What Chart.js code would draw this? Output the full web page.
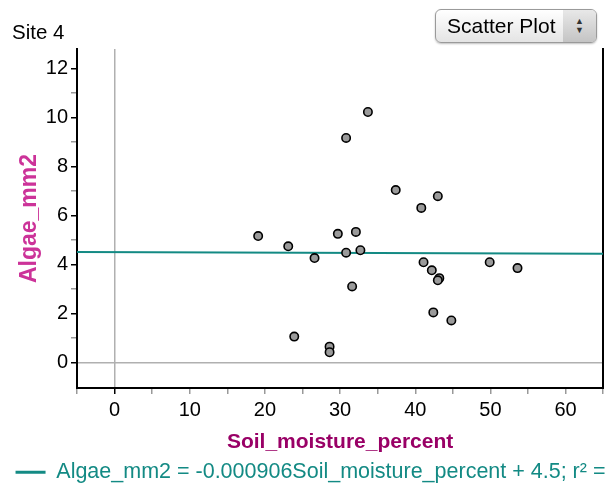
<!DOCTYPE html>
<html>
<head>
<meta charset="utf-8">
<script src="https://cdn.jsdelivr.net/npm/chart.js@4.4.1/dist/chart.umd.min.js"></script>
<style>
  html, body { margin: 0; padding: 0; background: #fff; overflow: hidden; }
  #wrap { position: relative; width: 605px; height: 489px; overflow: hidden; }
  #graphic { display: block; }
  #picker {
    position: absolute; left: 435px; top: 9px; width: 162px; height: 34px;
    box-sizing: border-box; border: 1px solid #9a9a9a; border-radius: 6px;
    background: linear-gradient(#ffffff, #e4e4e4);
    font: 21px "Liberation Sans", Arial, sans-serif; color: #000;
    box-shadow: 0 1px 2px rgba(0,0,0,0.25);
    overflow: hidden;
  }
  #picker .txt { position: absolute; left: 11px; top: 4px; }
  #picker .arr {
    position: absolute; right: 0; top: 0; width: 33px; height: 100%;
    background: linear-gradient(#e8e8e8, #c4c4c4);
    font-size: 9px; line-height: 9px; text-align: center; color: #333;
    padding-top: 7px; box-sizing: border-box;
  }
</style>
</head>
<body>
<div id="wrap">
  <canvas id="graphic" width="609" height="489"></canvas>
  <div id="picker"><span class="txt">Scatter Plot</span><div class="arr">▲<br>▼</div></div>
</div>
<script>
const ctx = document.getElementById('graphic');

// dados
const soilMoisture = [33.7, 30.8, 37.4, 43.0, 40.8, 19.1, 23.1, 29.7, 32.1, 26.6, 30.8, 32.7,
                      41.1, 42.2, 43.2, 43.0, 49.9, 53.6, 31.6, 42.4, 44.8, 23.9, 28.6, 28.6];
const algae = [10.23, 9.17, 7.04, 6.79, 6.31, 5.16, 4.74, 5.25, 5.33, 4.26, 4.48, 4.58,
               4.09, 3.76, 3.44, 3.35, 4.09, 3.85, 3.10, 2.04, 1.71, 1.05, 0.64, 0.41];

// linha de regressão (extremos do eixo x)
const fitX = [-5, 65];
const fitY = [4.5045, 4.4411];
const fitLabel = 'Algae_mm2 = -0.000906Soil_moisture_percent + 4.5; r\u00B2 =';

const xTicks = [-5, 0, 5, 10, 15, 20, 25, 30, 35, 40, 45, 50, 55, 60, 65];
const yTicks = [0, 1, 2, 3, 4, 5, 6, 7, 8, 9, 10, 11, 12];

const font = '"Liberation Sans", Arial, sans-serif';
const teal = '#138a84';
const padBaixo = -4;

const pontos = soilMoisture.map((x, i) => ({ x: x, y: algae[i] }));
const linha = fitX.map((x, i) => ({ x: x, y: fitY[i] }));

new Chart(ctx, {
    type: 'scatter',
    data: {
        datasets: [{
            label: 'pontos',
            data: pontos,
            backgroundColor: '#9a9a9a',
            borderColor: '#000',
            borderWidth: 1.6,
            pointRadius: 4.2,
            order: 1
        }, {
            label: fitLabel,
            data: linha,
            showLine: true,
            borderColor: teal,
            backgroundColor: teal,
            borderWidth: 2,
            pointRadius: 0,
            order: 2
        }]
    },
    options: {
        responsive: false,
        animation: false,
        layout: { padding: { left: 12, right: 0, top: 0, bottom: padBaixo } },
        plugins: {
            title: {
                display: true,
                text: 'Site 4',
                align: 'start',
                color: '#000',
                font: { family: font, size: 20.5, weight: 'normal' },
                padding: { top: 21, bottom: 3.5 }
            },
            legend: {
                position: 'bottom',
                labels: {
                    color: teal,
                    font: { family: font, size: 21.5 },
                    boxWidth: 30,
                    boxHeight: 3,
                    padding: 0,
                    generateLabels: (chart) => [{
                        text: fitLabel,
                        fillStyle: teal,
                        strokeStyle: teal,
                        lineWidth: 0,
                        fontColor: teal,
                        datasetIndex: 1
                    }]
                }
            },
            tooltip: { enabled: false }
        },
        scales: {
            x: {
                type: 'linear',
                position: 'bottom',
                min: -5,
                max: 65,
                afterBuildTicks: (scale) => { scale.ticks = xTicks.map(v => ({ value: v })); },
                afterFit: (scale) => {
                    scale.height = 489 - padBaixo - 388 - scale.chart.legend.height;
                    scale.paddingLeft = 0;
                    scale.paddingRight = 0;
                },
                ticks: {
                    color: '#000',
                    font: { family: font, size: 20 },
                    padding: 4,
                    maxRotation: 0,
                    autoSkip: false,
                    callback: (v) => (v % 10 === 0 ? String(v) : '')
                },
                grid: {
                    color: (c) => (c.tick && c.tick.value === 0 ? '#b0b0b0' : 'rgba(0,0,0,0)'),
                    lineWidth: 1.5,
                    tickColor: (c) => (c.tick && c.tick.value === 0 ? '#000' : '#999'),
                    tickLength: 6
                },
                border: { color: '#000', width: 2 },
                title: {
                    display: true,
                    text: 'Soil_moisture_percent',
                    color: '#990066',
                    font: { family: font, size: 21, weight: 'bold' },
                    padding: { top: 8, bottom: 7 }
                }
            },
            y: {
                type: 'linear',
                min: -1.05,
                max: 12.8,
                afterBuildTicks: (scale) => { scale.ticks = yTicks.map(v => ({ value: v })); },
                afterFit: (scale) => { scale.width = 65; },
                ticks: {
                    color: '#000',
                    font: { family: font, size: 20 },
                    padding: 3,
                    autoSkip: false,
                    callback: (v) => (v % 2 === 0 ? String(v) : '')
                },
                grid: {
                    color: (c) => (c.tick && c.tick.value === 0 ? '#b0b0b0' : 'rgba(0,0,0,0)'),
                    lineWidth: 1.5,
                    tickColor: (c) => (c.tick && c.tick.value % 2 === 0 ? '#000' : '#999'),
                    tickLength: 6
                },
                border: { color: '#000', width: 2 },
                title: {
                    display: true,
                    text: 'Algae_mm2',
                    color: '#cc3399',
                    font: { family: font, size: 23, weight: 'bold' },
                    padding: { top: 4, bottom: 0 }
                }
            },
            y2: {
                type: 'linear',
                position: 'right',
                min: -1.05,
                max: 12.8,
                afterFit: (scale) => { scale.width = 2; },
                ticks: { display: false },
                grid: { display: false, drawTicks: false },
                border: { color: '#000', width: 2 }
            }
        }
    }
});
</script>
</body>
</html>
